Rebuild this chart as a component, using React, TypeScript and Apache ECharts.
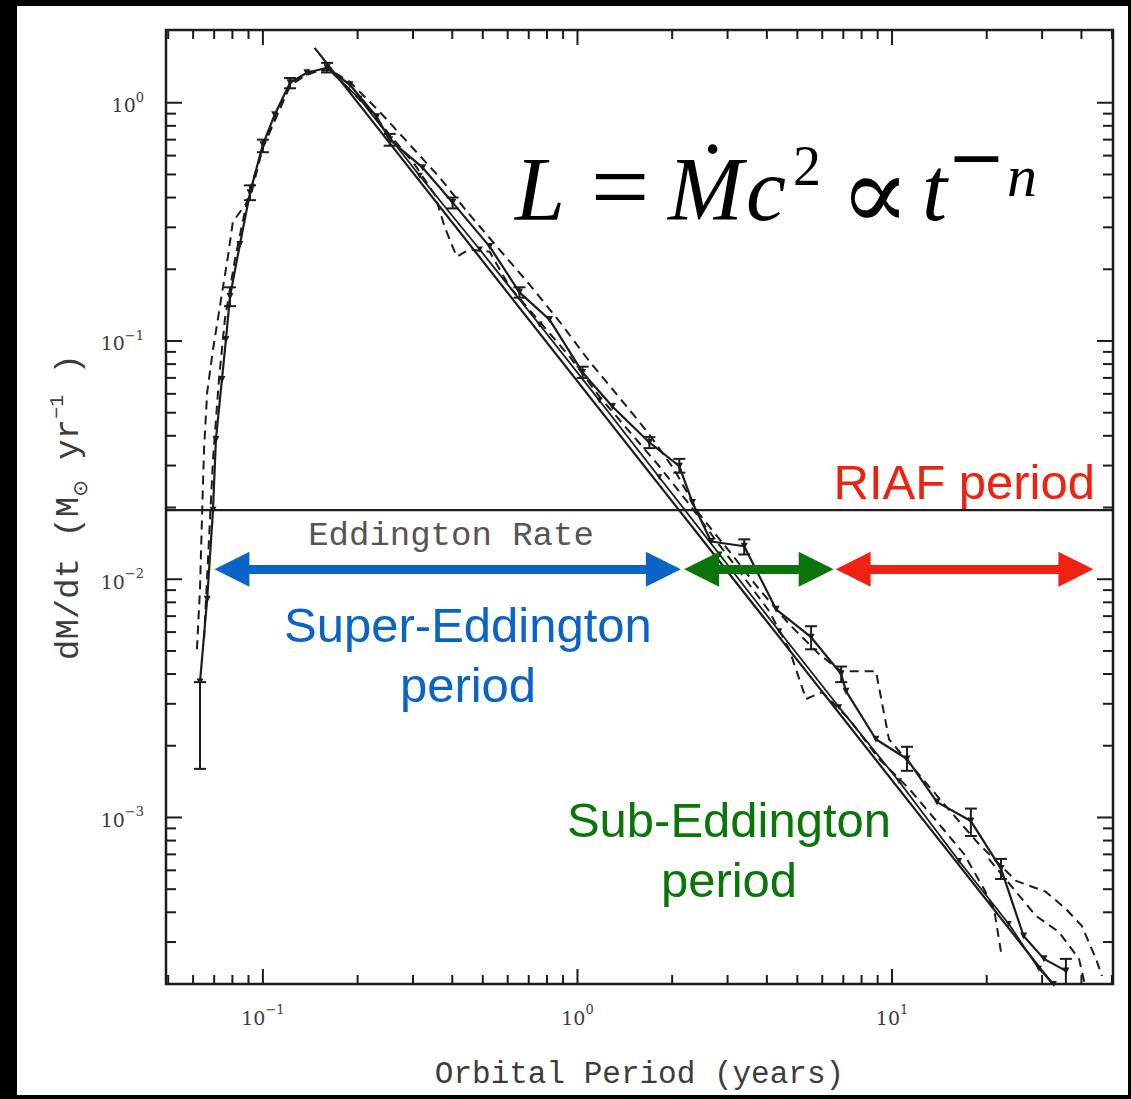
import React, { useEffect, useRef } from "react";
import * as echarts from "echarts";

// ---------- data ----------
// main simulated accretion-rate curve (solid)
const mainX = [0.0631, 0.0665, 0.0694, 0.0709, 0.0741, 0.0763, 0.0786, 0.0845, 0.091, 0.1, 0.109, 0.122, 0.138, 0.16, 0.189, 0.23, 0.253, 0.322, 0.401, 0.526, 0.654, 0.815, 1.038, 1.291, 1.693, 2.108, 2.32, 2.66, 3.39, 4.28, 5.53, 6.89, 7.14, 8.89, 11.16, 13.9, 17.81, 22.2, 26.2, 30.4, 35.7];
const mainY = [0.0037, 0.00824, 0.0195, 0.0386, 0.069, 0.1014, 0.1537, 0.254, 0.419, 0.667, 0.891, 1.213, 1.336, 1.402, 1.19, 0.874, 0.7, 0.534, 0.381, 0.249, 0.16, 0.123, 0.0738, 0.0531, 0.0375, 0.0298, 0.021, 0.0144, 0.01375, 0.00748, 0.00571, 0.004, 0.00339, 0.00213, 0.00176, 0.00116, 0.000966, 0.00061, 0.000318, 0.000255, 0.000227];

// second solid simulated curve
const secondX = [0.16, 0.203, 0.315, 0.489, 0.757, 1.174, 1.82, 2.83, 4.38, 6.79, 10.52, 16.33, 23.5, 29.3, 32.7];
const secondY = [1.402, 1.039, 0.494, 0.242, 0.1173, 0.0563, 0.0268, 0.0127, 0.00605, 0.0029, 0.00142, 0.000657, 0.000357, 0.000232, 0.0002];

// power-law fit (t^-5/3)
const fitX = [0.146, 32.4];
const fitY = [1.7, 0.0002];

// dashed curves
const dash1X = [0.0617, 0.0631, 0.064, 0.065, 0.0665, 0.0694, 0.073, 0.0774, 0.0803, 0.0857, 0.091, 0.1, 0.122, 0.138, 0.16, 0.182, 0.211, 0.253, 0.304, 0.352, 0.379, 0.413, 0.454, 0.526, 0.608, 0.757, 0.944, 1.174, 1.462, 1.82, 2.27, 2.62, 3.27, 4.07, 4.71, 5.33, 5.99, 7.3, 9.1, 11.33, 14.09, 16.93, 19.6, 21.1, 22.3];
const dash1Y = [0.00508, 0.00908, 0.0179, 0.0351, 0.0608, 0.0921, 0.1396, 0.226, 0.317, 0.356, 0.396, 0.654, 1.19, 1.31, 1.402, 1.19, 0.981, 0.734, 0.55, 0.411, 0.299, 0.226, 0.242, 0.237, 0.169, 0.1207, 0.0861, 0.0585, 0.0417, 0.0298, 0.0206, 0.0159, 0.0108, 0.00734, 0.00508, 0.00314, 0.00336, 0.00259, 0.00176, 0.00132, 0.00094, 0.000703, 0.000501, 0.000413, 0.000263];

const dash2X = [0.065, 0.0674, 0.0694, 0.0725, 0.0757, 0.0815, 0.0896, 0.1, 0.122, 0.141, 0.163, 0.189, 0.235, 0.293, 0.365, 0.454, 0.565, 0.704, 0.877, 1.092, 1.359, 1.693, 2.03, 2.44, 3.04, 3.78, 4.71, 5.86, 6.89, 8.89, 9.78, 11.75, 14.62, 18.88, 24.8, 30.8, 35.7, 40.1, 44.5, 46.5];
const dash2Y = [0.0056, 0.0147, 0.0318, 0.069, 0.123, 0.22, 0.403, 0.648, 1.178, 1.349, 1.375, 1.224, 0.917, 0.667, 0.485, 0.339, 0.242, 0.1726, 0.1207, 0.082, 0.0579, 0.0405, 0.0289, 0.01874, 0.0131, 0.00908, 0.00648, 0.00485, 0.00411, 0.00411, 0.00213, 0.0016, 0.00114, 0.000774, 0.000542, 0.000488, 0.000413, 0.000351, 0.000255, 0.000216];

const dash3X = [20.3, 28.7, 33.9, 39.3, 41.0];
const dash3Y = [0.00067, 0.000386, 0.000331, 0.000255, 0.0002];

// error bars on the main curve
const errX = [0.0631, 0.0786, 0.091, 0.1, 0.122, 0.16, 0.253, 0.401, 0.654, 1.038, 1.693, 2.108, 3.39, 5.53, 6.89, 11.16, 17.81, 22.2, 35.7];
const errLow = [0.0016, 0.14, 0.39, 0.62, 1.15, 1.34, 0.66, 0.36, 0.152, 0.07, 0.0355, 0.028, 0.0127, 0.00508, 0.0037, 0.00157, 0.000836, 0.000552, 0.0002];
const errHigh = [0.0037, 0.168, 0.45, 0.7, 1.27, 1.47, 0.74, 0.4, 0.168, 0.078, 0.0395, 0.032, 0.0147, 0.00635, 0.0043, 0.00198, 0.00109, 0.00067, 0.000255];

// Eddington rate
const eddingtonRate = 0.0195;
const xRange = [0.0492, 50.4];
const yRange = [0.0002, 2.02];

// period arrows (x extents, at one accretion-rate level)
const arrowLevel = 0.011;
const superEddX = [0.0797, 1.875];
const subEddX = [2.48, 5.74];
const riafX = [7.52, 38.4];

// tick values
const xTickValues = [0.05, 0.06, 0.07, 0.08, 0.09, 0.1, 0.2, 0.3, 0.4, 0.5, 0.6, 0.7, 0.8, 0.9, 1, 2, 3, 4, 5, 6, 7, 8, 9, 10, 20, 30, 40, 50];
const yTickValues = [0.0003, 0.0004, 0.0005, 0.0006, 0.0007, 0.0008, 0.0009, 0.001, 0.002, 0.003, 0.004, 0.005, 0.006, 0.007, 0.008, 0.009, 0.01, 0.02, 0.03, 0.04, 0.05, 0.06, 0.07, 0.08, 0.09, 0.1, 0.2, 0.3, 0.4, 0.5, 0.6, 0.7, 0.8, 0.9, 1];

const BLUE = "#0a63c6";
const GREEN = "#0a760a";
const RED = "#ee2211";
const INK = "#1c1c1c";
const GRAY = "#3c3c3c";
const MONO = "'Liberation Mono', 'DejaVu Sans Mono', monospace";
const SERIF = "'Liberation Serif', 'DejaVu Serif', serif";
const SANS = "'Liberation Sans', Arial, sans-serif";

const zip = (xs: number[], ys: number[]) => xs.map((x, i) => [x, ys[i]]);
const isDecade = (v: number) => {
  const l = Math.log10(v);
  return Math.abs(l - Math.round(l)) < 1e-6;
};
const decadeLabel = (v: number) => {
  if (!isDecade(v)) return "";
  const e = Math.round(Math.log10(v));
  return "{b|10}{e|" + (e < 0 ? "−" + -e : String(e)) + "}";
};
const tickRich = {
  b: { fontFamily: "'DejaVu Serif', serif", fontSize: 19, color: GRAY, lineHeight: 24, verticalAlign: "bottom" },
  e: { fontFamily: "'DejaVu Serif', serif", fontSize: 13, color: GRAY, lineHeight: 15, verticalAlign: "top" },
};

export default function App() {
  const ref = useRef<HTMLDivElement>(null);
  useEffect(() => {
    if (!ref.current) return;
    const chart = echarts.init(ref.current, null, { renderer: "svg" });

    const arrow = (xs: number[], color: string) => [
      {
        coord: [xs[0], arrowLevel],
        lineStyle: { color, width: 9, type: "solid" },
        itemStyle: { color },
      },
      { coord: [xs[1], arrowLevel] },
    ];

    const formulaPart = (text: string, x: number, y: number, size: number, opts: any = {}) => ({
      type: "text",
      z: 100,
      style: {
        x,
        y,
        text,
        align: opts.align || "left",
        verticalAlign: "middle",
        fontFamily: opts.family || SERIF,
        fontStyle: opts.italic ? "italic" : "normal",
        fontSize: size,
        fill: "#000",
      },
    });

    const option: any = {
      animation: false,
      backgroundColor: "#ffffff",
      grid: {
        left: 149,
        top: 24,
        width: 947,
        height: 955,
        show: true,
        borderColor: INK,
        borderWidth: 2.5,
        backgroundColor: "transparent",
      },
      xAxis: {
        type: "log",
        logBase: 10,
        min: xRange[0],
        max: xRange[1],
        axisLine: { show: false },
        axisTick: { show: false },
        splitLine: { show: false },
        axisLabel: { formatter: decadeLabel, rich: tickRich, margin: 19 },
        name: "Orbital Period (years)",
        nameLocation: "middle",
        nameGap: 75,
        nameTextStyle: { fontFamily: MONO, fontSize: 31, color: GRAY },
      },
      yAxis: {
        type: "log",
        logBase: 10,
        min: yRange[0],
        max: yRange[1],
        axisLine: { show: false },
        axisTick: { show: false },
        splitLine: { show: false },
        axisLabel: { formatter: decadeLabel, rich: tickRich, margin: 22 },
        name: "{a|dM/dt (M}{b|⊙}{a| yr}{c|−1}{a| )}",
        nameLocation: "middle",
        nameGap: 73,
        nameTextStyle: {
          color: GRAY,
          rich: {
            a: { fontFamily: MONO, fontSize: 34, color: GRAY, lineHeight: 42, verticalAlign: "middle" },
            b: { fontFamily: "'DejaVu Sans', sans-serif", fontSize: 20, color: GRAY, lineHeight: 42, verticalAlign: "bottom" },
            c: { fontFamily: MONO, fontSize: 20, color: GRAY, lineHeight: 42, verticalAlign: "top" },
          },
        },
      },
      series: [
        {
          type: "custom",
          silent: true,
          z: 5,
          data: xTickValues.map((v) => [v, 0.01]),
          renderItem: (params: any, api: any) => {
            const cs = params.coordSys;
            const v = api.value(0);
            const px = api.coord([v, 0.01])[0];
            const len = isDecade(v) ? 15 : 9;
            const b = cs.y + cs.height;
            return {
              type: "group",
              children: [
                { type: "line", shape: { x1: px, y1: b, x2: px, y2: b - len }, style: { stroke: INK, lineWidth: 2 } },
                { type: "line", shape: { x1: px, y1: cs.y, x2: px, y2: cs.y + len }, style: { stroke: INK, lineWidth: 2 } },
              ],
            };
          },
        },
        {
          type: "custom",
          silent: true,
          z: 5,
          data: yTickValues.map((v) => [1, v]),
          renderItem: (params: any, api: any) => {
            const cs = params.coordSys;
            const v = api.value(1);
            const py = api.coord([1, v])[1];
            const len = isDecade(v) ? 16 : 10;
            const r = cs.x + cs.width;
            return {
              type: "group",
              children: [
                { type: "line", shape: { x1: cs.x, y1: py, x2: cs.x + len, y2: py }, style: { stroke: INK, lineWidth: 2 } },
                { type: "line", shape: { x1: r, y1: py, x2: r - len, y2: py }, style: { stroke: INK, lineWidth: 2 } },
              ],
            };
          },
        },
        {
          name: "dashed1",
          type: "line",
          silent: true,
          showSymbol: false,
          data: zip(dash1X, dash1Y),
          lineStyle: { color: INK, width: 2, type: [9, 6] },
        },
        {
          name: "dashed2",
          type: "line",
          silent: true,
          showSymbol: false,
          data: zip(dash2X, dash2Y),
          lineStyle: { color: INK, width: 2, type: [9, 6] },
        },
        {
          name: "dashed3",
          type: "line",
          silent: true,
          showSymbol: false,
          data: zip(dash3X, dash3Y),
          lineStyle: { color: INK, width: 2, type: [9, 6] },
        },
        {
          name: "fit",
          type: "line",
          silent: true,
          showSymbol: false,
          data: zip(fitX, fitY),
          lineStyle: { color: INK, width: 2.2 },
        },
        {
          name: "second",
          type: "line",
          silent: true,
          symbol: "triangle",
          symbolSize: 6,
          symbolRotate: 180,
          itemStyle: { color: INK },
          data: zip(secondX, secondY),
          lineStyle: { color: INK, width: 1.8 },
        },
        {
          name: "main",
          type: "line",
          silent: true,
          symbol: "triangle",
          symbolSize: 7,
          symbolRotate: 180,
          itemStyle: { color: INK },
          data: zip(mainX, mainY),
          lineStyle: { color: INK, width: 2.2 },
        },
        {
          name: "errors",
          type: "custom",
          silent: true,
          z: 4,
          data: errX.map((x, i) => [x, errLow[i], errHigh[i]]),
          renderItem: (params: any, api: any) => {
            const x = api.value(0);
            const lo = api.coord([x, api.value(1)]);
            const hi = api.coord([x, api.value(2)]);
            const w = 6;
            const st = { stroke: INK, lineWidth: 2 };
            return {
              type: "group",
              children: [
                { type: "line", shape: { x1: lo[0], y1: lo[1], x2: hi[0], y2: hi[1] }, style: st },
                { type: "line", shape: { x1: lo[0] - w, y1: lo[1], x2: lo[0] + w, y2: lo[1] }, style: st },
                { type: "line", shape: { x1: hi[0] - w, y1: hi[1], x2: hi[0] + w, y2: hi[1] }, style: st },
              ],
            };
          },
        },
        {
          name: "Eddington",
          type: "line",
          silent: true,
          showSymbol: false,
          data: [
            [xRange[0], eddingtonRate],
            [xRange[1], eddingtonRate],
          ],
          lineStyle: { color: INK, width: 2.2 },
          markLine: {
            silent: true,
            symbol: ["triangle", "triangle"],
            symbolSize: 35,
            label: { show: false },
            emphasis: { disabled: true },
            data: [arrow(superEddX, BLUE), arrow(subEddX, GREEN), arrow(riafX, RED)],
          },
        },
      ],
      graphic: [
        {
          type: "text",
          z: 100,
          style: {
            x: 434,
            y: 530,
            text: "Eddington Rate",
            align: "center",
            verticalAlign: "middle",
            fontFamily: MONO,
            fontSize: 34,
            fill: "#555555",
          },
        },
        {
          type: "text",
          z: 100,
          style: {
            x: 451,
            y: 649,
            text: "Super-Eddington\nperiod",
            align: "center",
            verticalAlign: "middle",
            fontFamily: SANS,
            fontSize: 49,
            lineHeight: 60,
            fill: BLUE,
          },
        },
        {
          type: "text",
          z: 100,
          style: {
            x: 712,
            y: 844,
            text: "Sub-Eddington\nperiod",
            align: "center",
            verticalAlign: "middle",
            fontFamily: SANS,
            fontSize: 49,
            lineHeight: 60,
            fill: GREEN,
          },
        },
        {
          type: "text",
          z: 100,
          style: {
            x: 1078,
            y: 476,
            text: "RIAF period",
            align: "right",
            verticalAlign: "middle",
            fontFamily: SANS,
            fontSize: 49,
            fill: RED,
          },
        },
        // formula  L = Ṁc² ∝ t^−n
        formulaPart("L", 498, 183, 90, { italic: true }),
        formulaPart("=", 603, 180, 104, { align: "center" }),
        formulaPart("Ṁ", 651, 183, 90, { italic: true }),
        formulaPart("c", 729, 183, 90, { italic: true }),
        formulaPart("2", 776, 160, 56),
        formulaPart("∝", 858, 187, 104, { align: "center", family: "'DejaVu Serif', serif" }),
        formulaPart("t", 905, 183, 90, { italic: true }),
        formulaPart("−", 989, 151, 70, { align: "right", family: "'DejaVu Sans', sans-serif" }),
        formulaPart("n", 990, 170, 60, { italic: true }),
      ],
    };

    chart.setOption(option);
    return () => chart.dispose();
  }, []);

  return (
    <div
      style={{
        position: "fixed",
        left: 0,
        top: 0,
        width: 1131,
        height: 1099,
        background: "#000",
        overflow: "hidden",
      }}
    >
      <div
        ref={ref}
        style={{ position: "absolute", left: 17, top: 6, width: 1111, height: 1089, background: "#fff" }}
      />
    </div>
  );
}
